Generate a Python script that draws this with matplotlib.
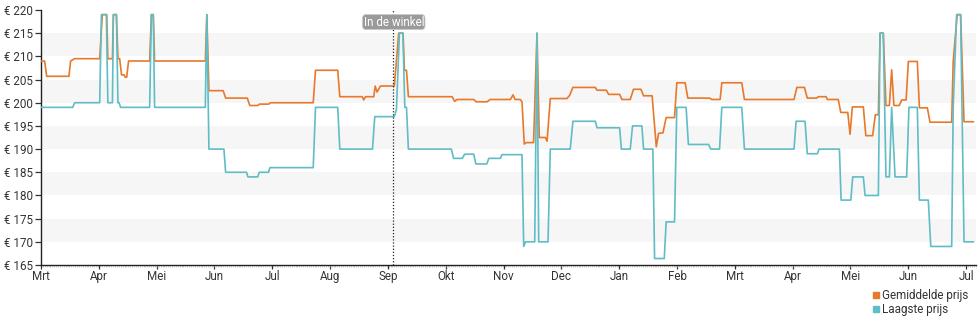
import matplotlib
matplotlib.use("Agg")
import matplotlib.pyplot as plt
from matplotlib.lines import Line2D
from matplotlib.ticker import MultipleLocator, FixedLocator

plt.rcParams['font.family'] = ['Roboto', 'DejaVu Sans']

# days since start of the period (month ticks every 30.44 days)
avg_days = [0, 1.9, 3.0, 14.7, 15.6, 17.7, 30.9, 32.3, 34.6, 35.2, 37.6, 38.1, 39.7, 40.5,
            41.4, 42.4, 43.8, 44.3, 45.1, 46.1, 57.2, 58.1, 59.1, 59.8, 86.5, 87.3, 88.4,
            95.9, 97.2, 108.6, 109.9, 114.1, 114.9, 119.9, 120.8, 143.3, 144.5, 156.2, 157.3,
            169.1, 169.9, 170.8, 175.2, 175.9, 176.9, 178.7, 186.0, 188.3, 190.6, 191.3, 192.4,
            193.4, 216.4, 217.8, 219.0, 227.8, 229.2, 234.8, 236.5, 247.1, 248.5, 249.5, 252.3,
            253.2, 254.4, 255.5, 259.3, 261.1, 262.3, 265.5, 266.4, 268.1, 276.9, 278.3, 280.0,
            291.8, 292.7, 297.6, 298.8, 304.6, 305.8, 310.2, 311.9, 315.8, 317.2, 321.7, 323.9,
            325.1, 327.4, 329.1, 333.5, 334.7, 339.1, 340.5, 351.9, 353.2, 357.5, 358.4, 368.9,
            370.3, 396.4, 397.9, 401.9, 403.4, 408.4, 409.1, 413.3, 414.0, 419.7, 421.0, 424.7,
            425.9, 427.1, 432.9, 434.2, 437.8, 439.2, 440.8, 441.7, 443.4, 444.8, 446.6, 447.8,
            449.0, 451.8, 453.1, 455.4, 456.6, 461.3, 462.4, 466.6, 468.0, 479.4, 480.2, 482.3,
            484.1, 485.9, 490.8]
avg_price = [209, 209, 205.7, 205.7, 209, 209.5, 209.5, 219, 219, 209.5, 209.5, 219, 219, 209.5,
             209.5, 206, 206, 205.5, 205.5, 209, 209, 219, 219, 209, 209, 219, 202.6,
             202.6, 201, 201, 199.4, 199.4, 199.7, 199.7, 200, 200, 207, 207, 201.3,
             201.3, 200.6, 201.3, 201.3, 203.6, 202.3, 203.6, 203.6, 215, 215, 207, 207,
             201.3, 201.3, 200.3, 200.7, 200.7, 200.2, 200.2, 200.7, 200.7, 201.7, 200.7, 200.7,
             200.2, 191.1, 191.4, 191.4, 215, 192.5, 192.5, 191.7, 200.9, 200.9, 201.6, 203.3,
             203.3, 202.7, 202.7, 201.8, 201.8, 200.7, 200.7, 202.9, 202.9, 201.5, 201.5, 190.5,
             193.4, 193.5, 196.8, 196.8, 204.3, 204.3, 201, 201, 200.7, 200.7, 204.3, 204.3,
             200.7, 200.7, 203.3, 203.3, 201, 201, 201.3, 201.3, 200.7, 200.7, 197.9, 197.9,
             193.2, 199.1, 199.1, 192.9, 192.9, 197.4, 197.4, 215, 215, 199.4, 199.4, 207.1,
             199.4, 199.4, 200.6, 200.6, 208.9, 208.9, 198.9, 198.9, 195.8, 195.8, 208.9, 219,
             219, 195.9, 195.9]

low_days = [0, 16.7, 17.7, 30.9, 31.8, 34.4, 35.2, 37.6, 38.1, 39.7, 40.5, 41.1, 41.9, 57.2,
            58.1, 59.1, 59.8, 86.5, 87.3, 88.4, 96.3, 97.2, 108.2, 108.9, 114.1, 114.9, 119.8,
            120.5, 143.3, 144.5, 156.2, 157.3, 174.5, 175.7, 186.0, 187.1, 188.7, 190.5, 191.5,
            192.4, 193.4, 216.0, 217.2, 221.8, 223.0, 227.8, 228.9, 234.7, 235.7, 241.8, 242.7,
            253.2, 254.1, 255.1, 259.9, 261.1, 262.0, 266.9, 268.1, 278.6, 280.0, 291.8, 292.7,
            304.6, 305.5, 310.2, 311.4, 316.3, 317.2, 322.1, 323.0, 328.1, 329.1, 333.5, 334.7,
            339.6, 340.8, 351.4, 352.6, 357.2, 358.4, 368.9, 370.3, 396.4, 397.5, 402.2, 403.4,
            408.7, 409.6, 420.3, 421.2, 426.3, 427.3, 432.9, 433.8, 440.8, 441.7, 443.4, 444.8,
            446.6, 447.8, 449.6, 455.7, 456.9, 461.3, 462.4, 467.1, 468.4, 479.4, 480.2, 482.0,
            484.1, 485.9, 490.8]
low_price = [199, 199, 200, 200, 219, 219, 200, 200, 219, 219, 200, 200, 199, 199,
             219, 219, 199, 199, 219, 190, 190, 185, 185, 184, 184, 185, 185,
             186, 186, 199, 199, 190, 190, 197, 197, 198.5, 215, 215, 199,
             199, 190, 190, 188, 188, 188.9, 188.9, 186.8, 186.8, 188, 188, 188.8,
             188.8, 169, 170, 170, 215, 170, 170, 190, 190, 196, 196, 194.6,
             194.6, 190, 190, 195, 195, 190, 190, 166.4, 166.4, 174.3, 174.3, 199,
             199, 191, 191, 190, 190, 199, 199, 190, 190, 196, 196, 189,
             189, 190, 190, 179, 179, 184, 184, 180, 180, 215, 215, 184,
             184, 199, 184, 184, 199, 199, 179, 179, 169, 169, 199, 219,
             219, 170, 170]

month_labels = ['Mrt', 'Apr', 'Mei', 'Jun', 'Jul', 'Aug', 'Sep', 'Okt', 'Nov', 'Dec', 'Jan',
                'Feb', 'Mrt', 'Apr', 'Mei', 'Jun', 'Jul']
y_ticks = [165, 170, 175, 180, 185, 190, 195, 200, 205, 210, 215, 220]
store_day = 185.4
store_label = 'In de winkel'

ORANGE = '#e8782a'
TEAL = '#5fbdc5'
TXT = '#333333'
FS = 8.4

fig = plt.figure(figsize=(9.8, 3.25), dpi=100)
ax = fig.add_axes([41 / 980, 60 / 325, 935 / 980, 255 / 325])

for lo in y_ticks[1:-1:2]:
    ax.axhspan(lo, lo + 5, color='#f6f6f6', lw=0, zorder=0)

ax.plot(avg_days, avg_price, color=ORANGE, lw=1.2, zorder=3)
ax.plot(low_days, low_price, color=TEAL, lw=1.2, zorder=4)

ax.axvline(store_day, color='#222222', lw=0.9, ls=(0, (1, 1.5)), zorder=5)
ax.text(store_day + 0.3, 217.4, store_label, ha='center', va='center', color='white',
        fontsize=FS, zorder=6,
        bbox=dict(boxstyle='round,pad=0.08,rounding_size=0.3', fc='#9a9a9a', ec='#c8c8c8', lw=0.6))

ax.set_xlim(0, 492.2)
ax.set_ylim(165, 220)
ax.xaxis.set_major_locator(FixedLocator([i * 30.4375 for i in range(len(month_labels))]))
ax.set_xticklabels(month_labels)
ax.xaxis.set_minor_locator(MultipleLocator(1))
ax.set_yticks(y_ticks)
ax.set_yticklabels(['€ %d' % v for v in y_ticks])

for s in ['top', 'right']:
    ax.spines[s].set_visible(False)
for s in ['left', 'bottom']:
    ax.spines[s].set_color('#222222')
    ax.spines[s].set_linewidth(1)
ax.tick_params(axis='both', which='major', labelsize=FS, colors=TXT, length=3, width=0.9, pad=0.5)
ax.tick_params(axis='x', which='minor', length=1.5, width=0.4, color='#aaaaaa')
ax.tick_params(axis='y', which='major', length=4, pad=1.5)

handles = [Line2D([], [], ls='', marker='s', ms=4.5, color=ORANGE),
           Line2D([], [], ls='', marker='s', ms=4.5, color=TEAL)]
fig.legend(handles, ['Gemiddelde prijs', 'Laagste prijs'], loc='upper left',
           bbox_to_anchor=(872 / 980, 1 - 289 / 325), frameon=False, fontsize=FS,
           handlelength=0.7, handletextpad=0.15, labelspacing=0.05, borderpad=0,
           borderaxespad=0, labelcolor=TXT)

fig.savefig('out.png', dpi=100)
